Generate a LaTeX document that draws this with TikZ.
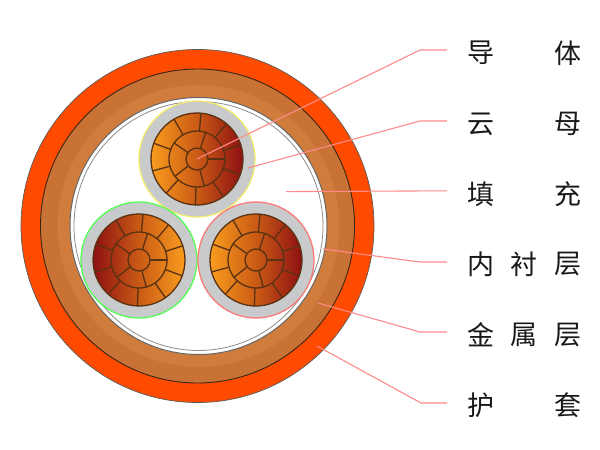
\documentclass[tikz,border=0pt]{standalone}
\usepackage{fontspec}
\usetikzlibrary{calc}
\newfontfamily\cjk{Noto Sans CJK SC}
\definecolor{spokecol}{HTML}{5A3212}
\definecolor{leadcol}{HTML}{FF8A8A}
\definecolor{jacket}{HTML}{FF4B00}
\definecolor{bandA}{HTML}{C87235}
\definecolor{bandC}{HTML}{CF7C3D}
\definecolor{micagrey}{HTML}{C9CACC}
\definecolor{hot}{HTML}{8E1012}
\definecolor{warm}{HTML}{F99C1E}
\tikzset{
  spoke/.style={draw=spokecol,line width=1.3pt,line cap=round},
  leader/.style={draw=leadcol,line width=1.1pt},
  lab/.style={inner sep=0pt,font=\cjk\fontsize{27}{27}\selectfont,text=black!90}
}
\newcommand{\cablebody}[5]{% name, x, y, outline, shading options
  \coordinate (#1) at (#2,#3);
  \fill[micagrey,draw=#4,line width=1.2pt] (#1) circle (58pt);
  \shade[#5] (#1) circle (46pt);
  \draw[spokecol,line width=1.3pt] (#1) circle (46pt) (#1) circle (28pt) (#1) circle (11pt);
  \foreach \a in {0,72,145,218,285}{\draw[spoke] ($(#1)+(\a:11pt)$) -- ($(#1)+(\a:28pt)$);}
  \foreach \a in {18,50,85,120,160,195,228,268,305,340}{\draw[spoke] ($(#1)+(\a:28pt)$) -- ($(#1)+(\a:46pt)$);}
}
\begin{document}
\begin{tikzpicture}[x=1pt,y=-1pt]
\useasboundingbox (0,0) rectangle (600,450);
\coordinate (C) at (197.5,226);
\coordinate (I) at (198.5,226);
\fill[jacket,draw=black!65,line width=0.7pt] (C) circle (176.5pt);
\fill[bandA,draw=black!70!brown,line width=0.9pt] (C) circle (157pt);
\fill[bandC] (I) circle (141pt);
\fill[white,draw=black!60,line width=1pt] (I) circle (128.5pt);
\draw[black!45,line width=0.8pt] (I) circle (124.5pt);
\cablebody{top}{197}{159}{yellow!60!white!95!black}{left color=warm,right color=hot,middle color=warm!50!hot!90!orange}
\cablebody{bl}{139}{260}{green!70!white}{left color=hot,right color=warm,middle color=warm!50!hot!90!orange}
\cablebody{br}{256}{260}{red!55!white}{left color=warm,right color=hot,middle color=warm!50!hot!90!orange}

\node[lab] (a1) at (481,53) {导};  \node[lab] (a2) at (568,53) {体};
\node[lab] (b1) at (481,124) {云};  \node[lab] (b2) at (568,124) {母};
\node[lab] (c1) at (481,194) {填};  \node[lab] (c2) at (568,194) {充};
\node[lab] (d1) at (481,264) {内};  \node[lab] (d3) at (524,264) {衬}; \node[lab] (d2) at (568,264) {层};
\node[lab] (e1) at (481,335) {金};  \node[lab] (e3) at (524,335) {属}; \node[lab] (e2) at (568,335) {层};
\node[lab] (f1) at (481,405) {护};  \node[lab] (f2) at (568,405) {套};

\coordinate (pa) at (197,159); \coordinate (ka) at (420,50);
\coordinate (pb) at (248,168); \coordinate (kb) at (420,121);
\coordinate (pc) at (286,191.6); \coordinate (kc) at (447,190.8);
\coordinate (pd) at (323,249); \coordinate (kd) at (420,262);
\coordinate (pe) at (318,303); \coordinate (ke) at (420,332);
\coordinate (pf) at (317,346); \coordinate (kf) at (421,403);
\draw[leader] (pa) -- (ka) -- (447,50);
\draw[leader] (pb) -- (kb) -- (447,121);
\draw[leader] (pc) -- (kc);
\draw[leader] (pd) -- (kd) -- (447,262);
\draw[leader] (pe) -- (ke) -- (447,332);
\draw[leader] (pf) -- (kf) -- (447,403);
\end{tikzpicture}
\end{document}
